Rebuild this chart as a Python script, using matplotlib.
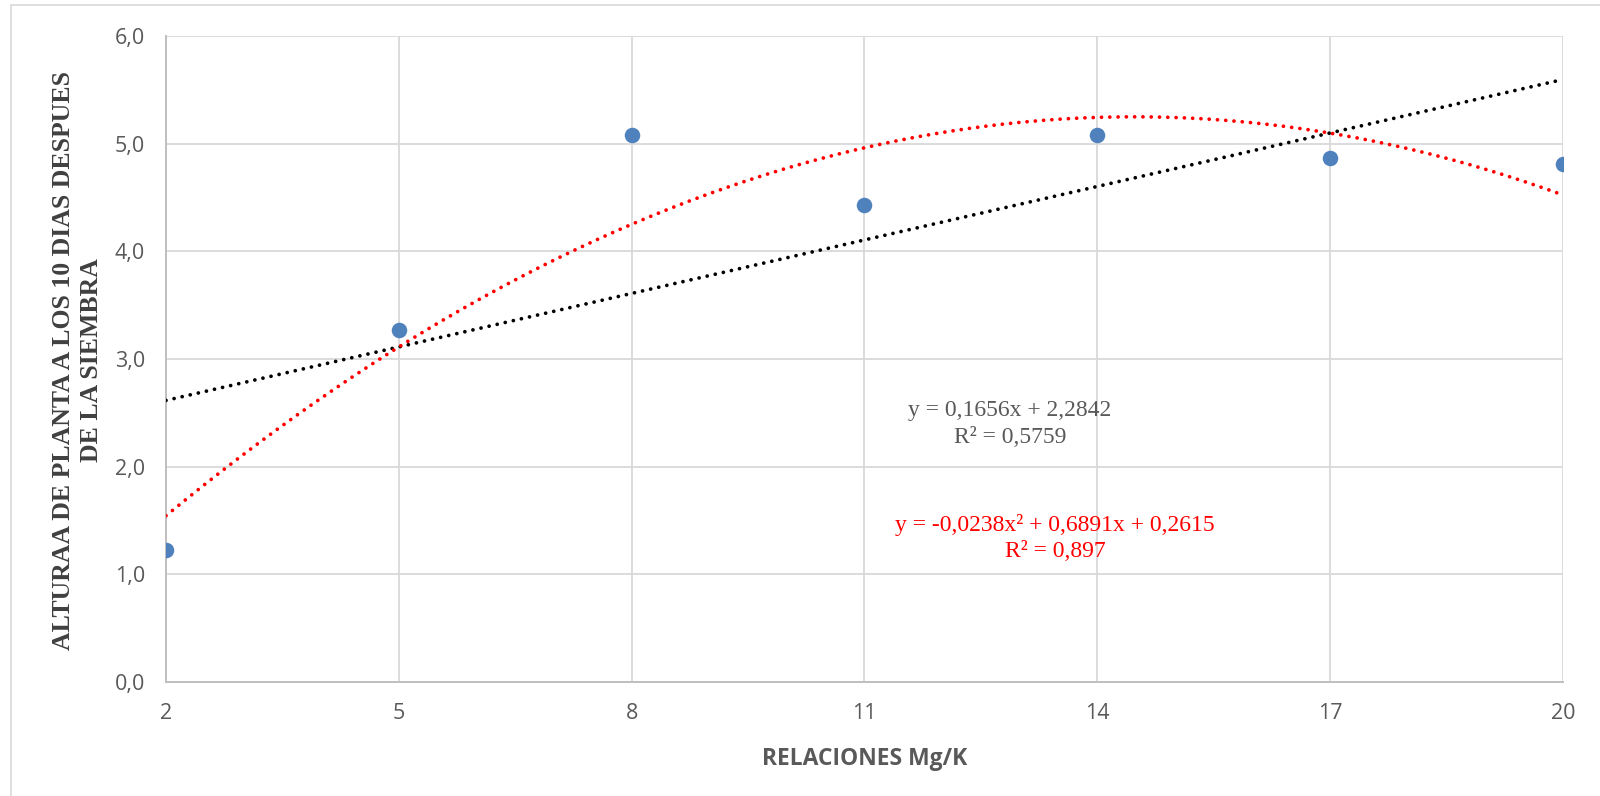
import numpy as np
import matplotlib
matplotlib.use("Agg")
import matplotlib.pyplot as plt
from matplotlib.patches import Rectangle

# relaciones Mg/K y altura de planta a los 10 dias
relacion = [2, 5, 8, 11, 14, 17, 20]
altura = [1.23, 3.27, 5.08, 4.43, 5.08, 4.87, 4.81]

# lineas de tendencia (coeficientes de las ecuaciones)
lin_m, lin_b, lin_r2 = 0.1656, 2.2842, 0.5759
pol_a, pol_b, pol_c, pol_r2 = -0.0238, 0.6891, 0.2615, 0.897

x_ticks = [2, 5, 8, 11, 14, 17, 20]
y_ticks = [0, 1, 2, 3, 4, 5, 6]

gris = "#595959"

fig = plt.figure(figsize=(16, 7.96), dpi=100)
ax = fig.add_axes([166/1600, 1-682/796, (1563-166)/1600, (682-36)/796])

# marco exterior del grafico
fig.patches.append(Rectangle((11/1600, -0.05), 1.1, 1-5/796+0.05, transform=fig.transFigure,
                             fill=False, edgecolor="#D9D9D9", linewidth=1.2))

ax.scatter(relacion, altura, s=125, color="#4F81BD", zorder=3, linewidths=0)

xx = np.linspace(2, 20, 300)
dots = (0, (0.01, 2.2))
ax.plot(xx, lin_m*xx + lin_b, color="black", linewidth=2.7, linestyle=dots,
        dash_capstyle="round", zorder=4)
ax.plot(xx, pol_a*xx**2 + pol_b*xx + pol_c, color="red", linewidth=2.7, linestyle=dots,
        dash_capstyle="round", zorder=4)

ax.set_xlim(2, 20)
ax.set_ylim(0, 6)
ax.set_xticks(x_ticks)
ax.set_yticks(y_ticks)
ax.set_xticklabels([str(v) for v in x_ticks])
ax.set_yticklabels([f"{v:.1f}".replace(".", ",") for v in y_ticks])
ax.grid(True, color="#D9D9D9", linewidth=1.3)
ax.set_axisbelow(True)
for s in ["top", "right"]:
    ax.spines[s].set_visible(False)
for s in ["left", "bottom"]:
    ax.spines[s].set_color("#BFBFBF")
    ax.spines[s].set_linewidth(1.4)
ax.tick_params(length=0, labelsize=15.5, labelcolor=gris, pad=15)
for lbl in ax.get_xticklabels() + ax.get_yticklabels():
    lbl.set_fontfamily("Open Sans")

ax.set_xlabel("RELACIONES Mg/K", fontsize=16.5, fontweight="bold", color=gris,
              family="Open Sans", labelpad=17)
fig.text(64/1600, 1-360/796, "ALTURAA DE PLANTA A LOS 10 DIAS DESPUES",
         rotation=90, ha="center", va="center", fontsize=18.5, fontweight="bold",
         color="#404040", family="Liberation Serif")
fig.text(92/1600, 1-360/796, "DE LA SIEMBRA",
         rotation=90, ha="center", va="center", fontsize=18.5, fontweight="bold",
         color="#404040", family="Liberation Serif")

fig.text(1010/1600, 1-424/796,
         f"y = {lin_m:.4f}x + {lin_b:.4f}".replace(".", ",") + "\n" +
         f"R² = {lin_r2:.4f}".replace(".", ","),
         ha="center", va="center", multialignment="center", linespacing=1.35,
         fontsize=17, color=gris, family="Liberation Serif")
fig.text(1055/1600, 1-538/796,
         f"y = {pol_a:.4f}x² + {pol_b:.4f}x + {pol_c:.4f}".replace(".", ",") + "\n" +
         f"R² = {pol_r2:.3f}".replace(".", ","),
         ha="center", va="center", multialignment="center", linespacing=1.35,
         fontsize=17, color="red", family="Liberation Serif")

fig.savefig("out.png", dpi=100)
